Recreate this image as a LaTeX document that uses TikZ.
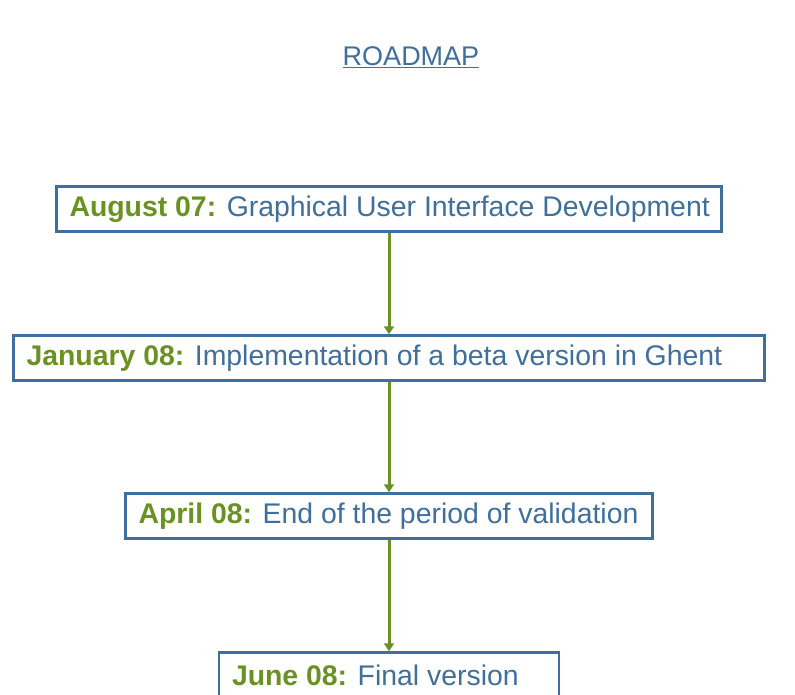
\documentclass[tikz,border=0pt]{standalone}
\usepackage{fontspec}
\setmainfont{Liberation Sans}
\usepackage{xcolor}
\usetikzlibrary{arrows.meta}
\definecolor{mapblue}{HTML}{3F6F9C}
\definecolor{mapgreen}{HTML}{6A9222}
\tikzset{
	stage/.style = {draw = mapblue, line width = 2.5pt, fill = white, text = mapblue, minimum height = 45pt, inner ysep = 0pt, inner xsep = 13pt, align = flush left, font = \fontsize{28.4}{32}\selectfont},
	link/.style = {draw = mapgreen, line width = 3pt, -{Triangle[length = 8pt, width = 10pt]}}
}
\newcommand{\when}[1]{{\color{mapgreen}\bfseries #1:}}
\begin{document}
\begin{tikzpicture}[x = 1pt, y = -1pt]
	\useasboundingbox[fill = white] (0,0) rectangle (795,695);
	\clip (0,0) rectangle (795,695);
	\node[text = mapblue, font = \fontsize{27}{30}\selectfont] (title) at (411,57) {\underline{ROADMAP}};
	\node[stage, text width = 639pt] (aug) at (389,209) {\mbox{\when{August 07} Graphical User Interface Development}};
	\node[stage, text width = 725pt] (jan) at (389,358) {\mbox{\when{January 08} Implementation of a beta version in Ghent}};
	\node[stage, text width = 501pt] (apr) at (389,516) {\mbox{\when{April 08} End of the period of validation}};
	\node[stage, text width = 314pt] (jun) at (389,675) {\mbox{\when{June 08} Final version}};
	\draw[link] (aug) -- (jan);
	\draw[link] (jan) -- (apr);
	\draw[link] (apr) -- (jun);
\end{tikzpicture}
\end{document}
